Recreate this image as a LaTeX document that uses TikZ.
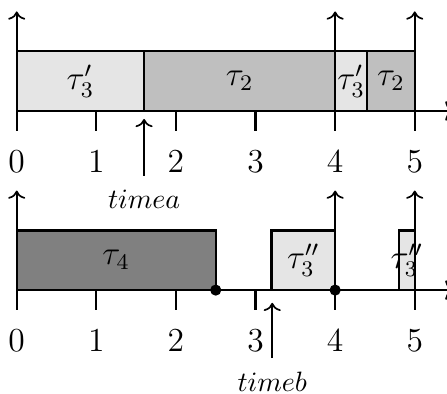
\documentclass[tikz,border=0pt]{standalone}
\usetikzlibrary{arrows.meta,positioning}
\colorlet{jobLight}{gray!20}
\colorlet{jobMid}{gray!50}
\colorlet{jobDark}{gray}

\begin{document}
\begin{tikzpicture}[x=1cm,y=1cm,
    slot/.style={draw,thick},
    joblabel/.style={font=\large},
    release/.style={semithick,->},
    tick/.style={thick},
    instant/.style={anchor=base,inner xsep=1pt,inner ysep=5pt}]
    \path[use as bounding box] (-0.21,-3.555) rectangle (5.405,1.394);
    % jobs on the first timeline
    \foreach \a/\b/\c/\lbl in {0/1.6/jobLight/{\tau_3'},1.6/4/jobMid/{\tau_2},4/4.4/jobLight/{\tau_3'},4.4/5/jobMid/{\tau_2}} {
      \draw[slot,fill=\c] (\a,0) rectangle (\b,.75);
      \node[joblabel] at ({(\a+\b)/2},.375) {$\lbl$};
    }
    % jobs on the second timeline
    \foreach \a/\b/\c/\lbl in {0/2.5/jobDark/{\tau_4},3.2/4/jobLight/{\tau_3''},4.8/5/jobLight/{\tau_3''}} {
      \draw[slot,fill=\c] (\a,-2.25) rectangle (\b,-1.5);
      \node[joblabel] at ({(\a+\b)/2},-1.875) {$\lbl$};
    }
    \foreach \y in {0,-2.25} {
      \draw[thick,->] (0,\y) -- (5.5,\y);
      \foreach \t in {0,...,5} {
        \draw[tick] (\t,\y) -- (\t,\y-.25);
        \node[font=\large] at (\t,\y-.64) {$\t$};
      }
      \foreach \t in {0,4,5} \draw[release] (\t,\y-.25) -- (\t,\y+1.25);
    }
    \fill (2.5,-2.25) circle (2pt);
    \fill (4,-2.25) circle (2pt);
    % instants
    \coordinate (ta) at (1.6,-.1);
    \node[instant] (timea) at (1.6,-1.23) {$timea$};
    \draw[release] (timea.north) -- (ta);
    \coordinate (tb) at (3.21,-2.41);
    \node[instant] (timeb) at (3.21,-3.53) {$timeb$};
    \draw[release] (timeb.north) -- (tb);
  \end{tikzpicture}
\end{document}
